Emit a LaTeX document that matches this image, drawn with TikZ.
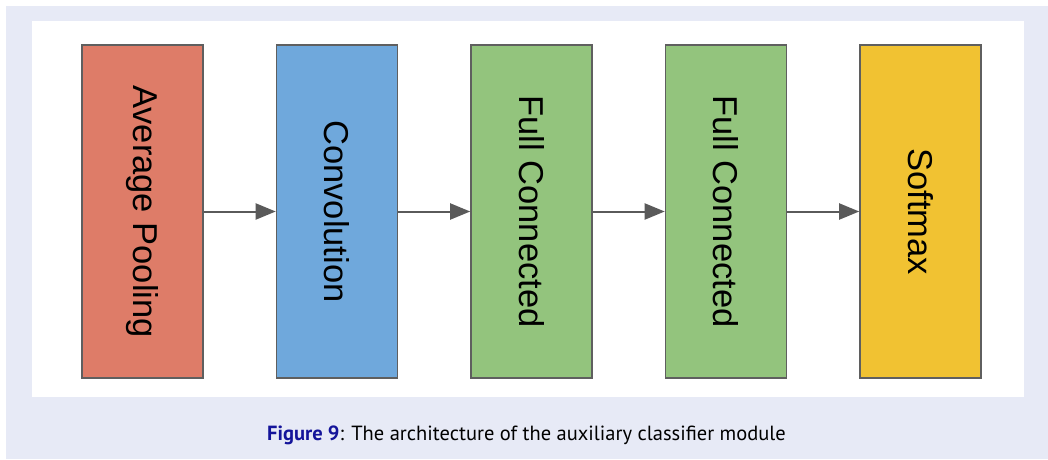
\documentclass[tikz,border=0pt]{standalone}
\usepackage{fontspec}
\usepackage{xcolor}
\usetikzlibrary{arrows.meta, positioning}
\newfontfamily\boxfont{Liberation Sans}
\newfontfamily\capfont{PT Sans}
\definecolor{pagebg}{HTML}{E7EAF6}
\definecolor{poolred}{HTML}{DE7C68}
\definecolor{convblue}{HTML}{6FA8DC}
\definecolor{fcgreen}{HTML}{93C47D}
\definecolor{softyellow}{HTML}{F1C232}
\definecolor{edgegray}{HTML}{5F5F5F}
\definecolor{arrowgray}{HTML}{5A5A5A}
\definecolor{figblue}{HTML}{14149A}
\tikzset{
  layer/.style={rectangle,draw=edgegray,line width=1.6pt,
    minimum width=121pt,minimum height=333pt,inner sep=0pt,
    font=\boxfont\fontsize{34.5}{40}\selectfont},
  arrow/.style={-{Triangle[length=20pt,width=16pt]},line width=2pt,draw=arrowgray}
}

\begin{document}
\begin{tikzpicture}[x=1pt,y=1pt,node distance=71.9pt]
  \useasboundingbox (0,0) rectangle (1048,459);
  \fill[white] (0,0) rectangle (1048,459);
  \fill[pagebg] (6,0) rectangle (1048,453);
  \fill[white] (32,62) rectangle (1024,438);

  \node[layer, fill=poolred] (pool) at (142.5,247.5) {\rotatebox{-90}{Average Pooling}};
  \node[layer, fill=convblue, right=of pool] (conv) {\rotatebox{-90}{Convolution}};
  \node[layer, fill=fcgreen, right=of conv] (fca) {\rotatebox{-90}{Full Connected}};
  \node[layer, fill=fcgreen, right=of fca] (fcb) {\rotatebox{-90}{Full Connected}};
  \node[layer, fill=softyellow, right=of fcb] (softmax) {\rotatebox{-90}{Softmax}};

  \draw[arrow] (pool) -- (conv);
  \draw[arrow] (conv) -- (fca);
  \draw[arrow] (fca) -- (fcb);
  \draw[arrow] (fcb) -- (softmax);

  \node[font=\capfont\fontsize{20.5}{24}\selectfont] (caption) at (526.5,24)
    {\textcolor{figblue}{\bfseries Figure 9}: The architecture of the auxiliary classifier module};
\end{tikzpicture}
\end{document}
